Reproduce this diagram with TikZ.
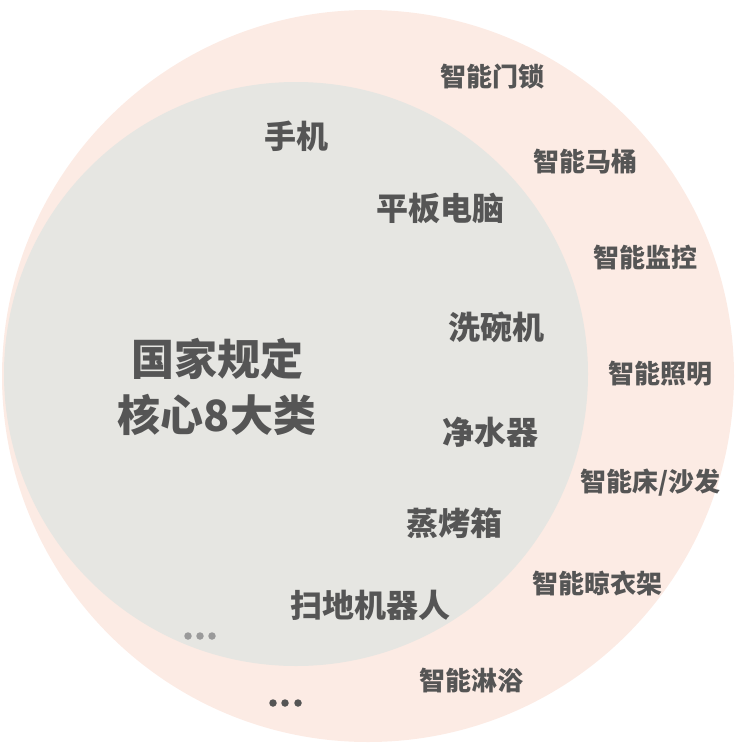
\documentclass[tikz,border=0pt]{standalone}
\usepackage{fontspec}
\setmainfont{Noto Sans CJK SC}[BoldFont={Noto Sans CJK SC Black}]
\definecolor{peach}{HTML}{FCEBE4}
\definecolor{circgray}{HTML}{E6E6E2}
\definecolor{txt}{HTML}{555555}
\definecolor{dotgray}{HTML}{9A9A9A}
\tikzset{
  outerlbl/.style={text=txt,font=\bfseries\fontsize{26}{30}\selectfont,inner sep=0pt},
  innerlbl/.style={text=txt,font=\bfseries\fontsize{32}{36}\selectfont,inner sep=0pt},
  centerlbl/.style={text=txt,font=\bfseries\fontsize{43}{56}\selectfont,inner sep=0pt,align=center},
  dotmark/.style={circle,inner sep=0pt,minimum size=7.5pt,draw=none}
}
\begin{document}
\begin{tikzpicture}[x=1pt,y=-1pt]
\useasboundingbox (0,0) rectangle (735,744);
\fill[peach] (368,376) circle (366);
\fill[circgray] (296,374) circle (292);
% centre
\node[centerlbl] (core) at (217,387) {国家规定\\核心8大类};
% inner items
\node[innerlbl] (phone) at (296,136) {手机};
\node[innerlbl] (tablet) at (440,208) {平板电脑};
\node[innerlbl] (dish) at (496,327) {洗碗机};
\node[innerlbl] (water) at (490,432) {净水器};
\node[innerlbl] (oven) at (454,523) {蒸烤箱};
\node[innerlbl] (robot) at (370,605) {扫地机器人};
\node[dotmark,fill=dotgray] (d1) at (188,636) {};
\node[dotmark,fill=dotgray] (d2) at (200,636) {};
\node[dotmark,fill=dotgray] (d3) at (212,636) {};
% outer items
\node[outerlbl] (lock) at (492,77) {智能门锁};
\node[outerlbl] (toilet) at (585,162) {智能马桶};
\node[outerlbl] (camera) at (645,257) {智能监控};
\node[outerlbl] (light) at (660,374) {智能照明};
\node[outerlbl] (bed) at (650,483) {智能床/沙发};
\node[outerlbl] (rack) at (597,583) {智能晾衣架};
\node[outerlbl] (shower) at (471,681) {智能淋浴};
\node[dotmark,fill=txt] (e1) at (273,703) {};
\node[dotmark,fill=txt] (e2) at (285,703) {};
\node[dotmark,fill=txt] (e3) at (298,703) {};
\end{tikzpicture}
\end{document}
